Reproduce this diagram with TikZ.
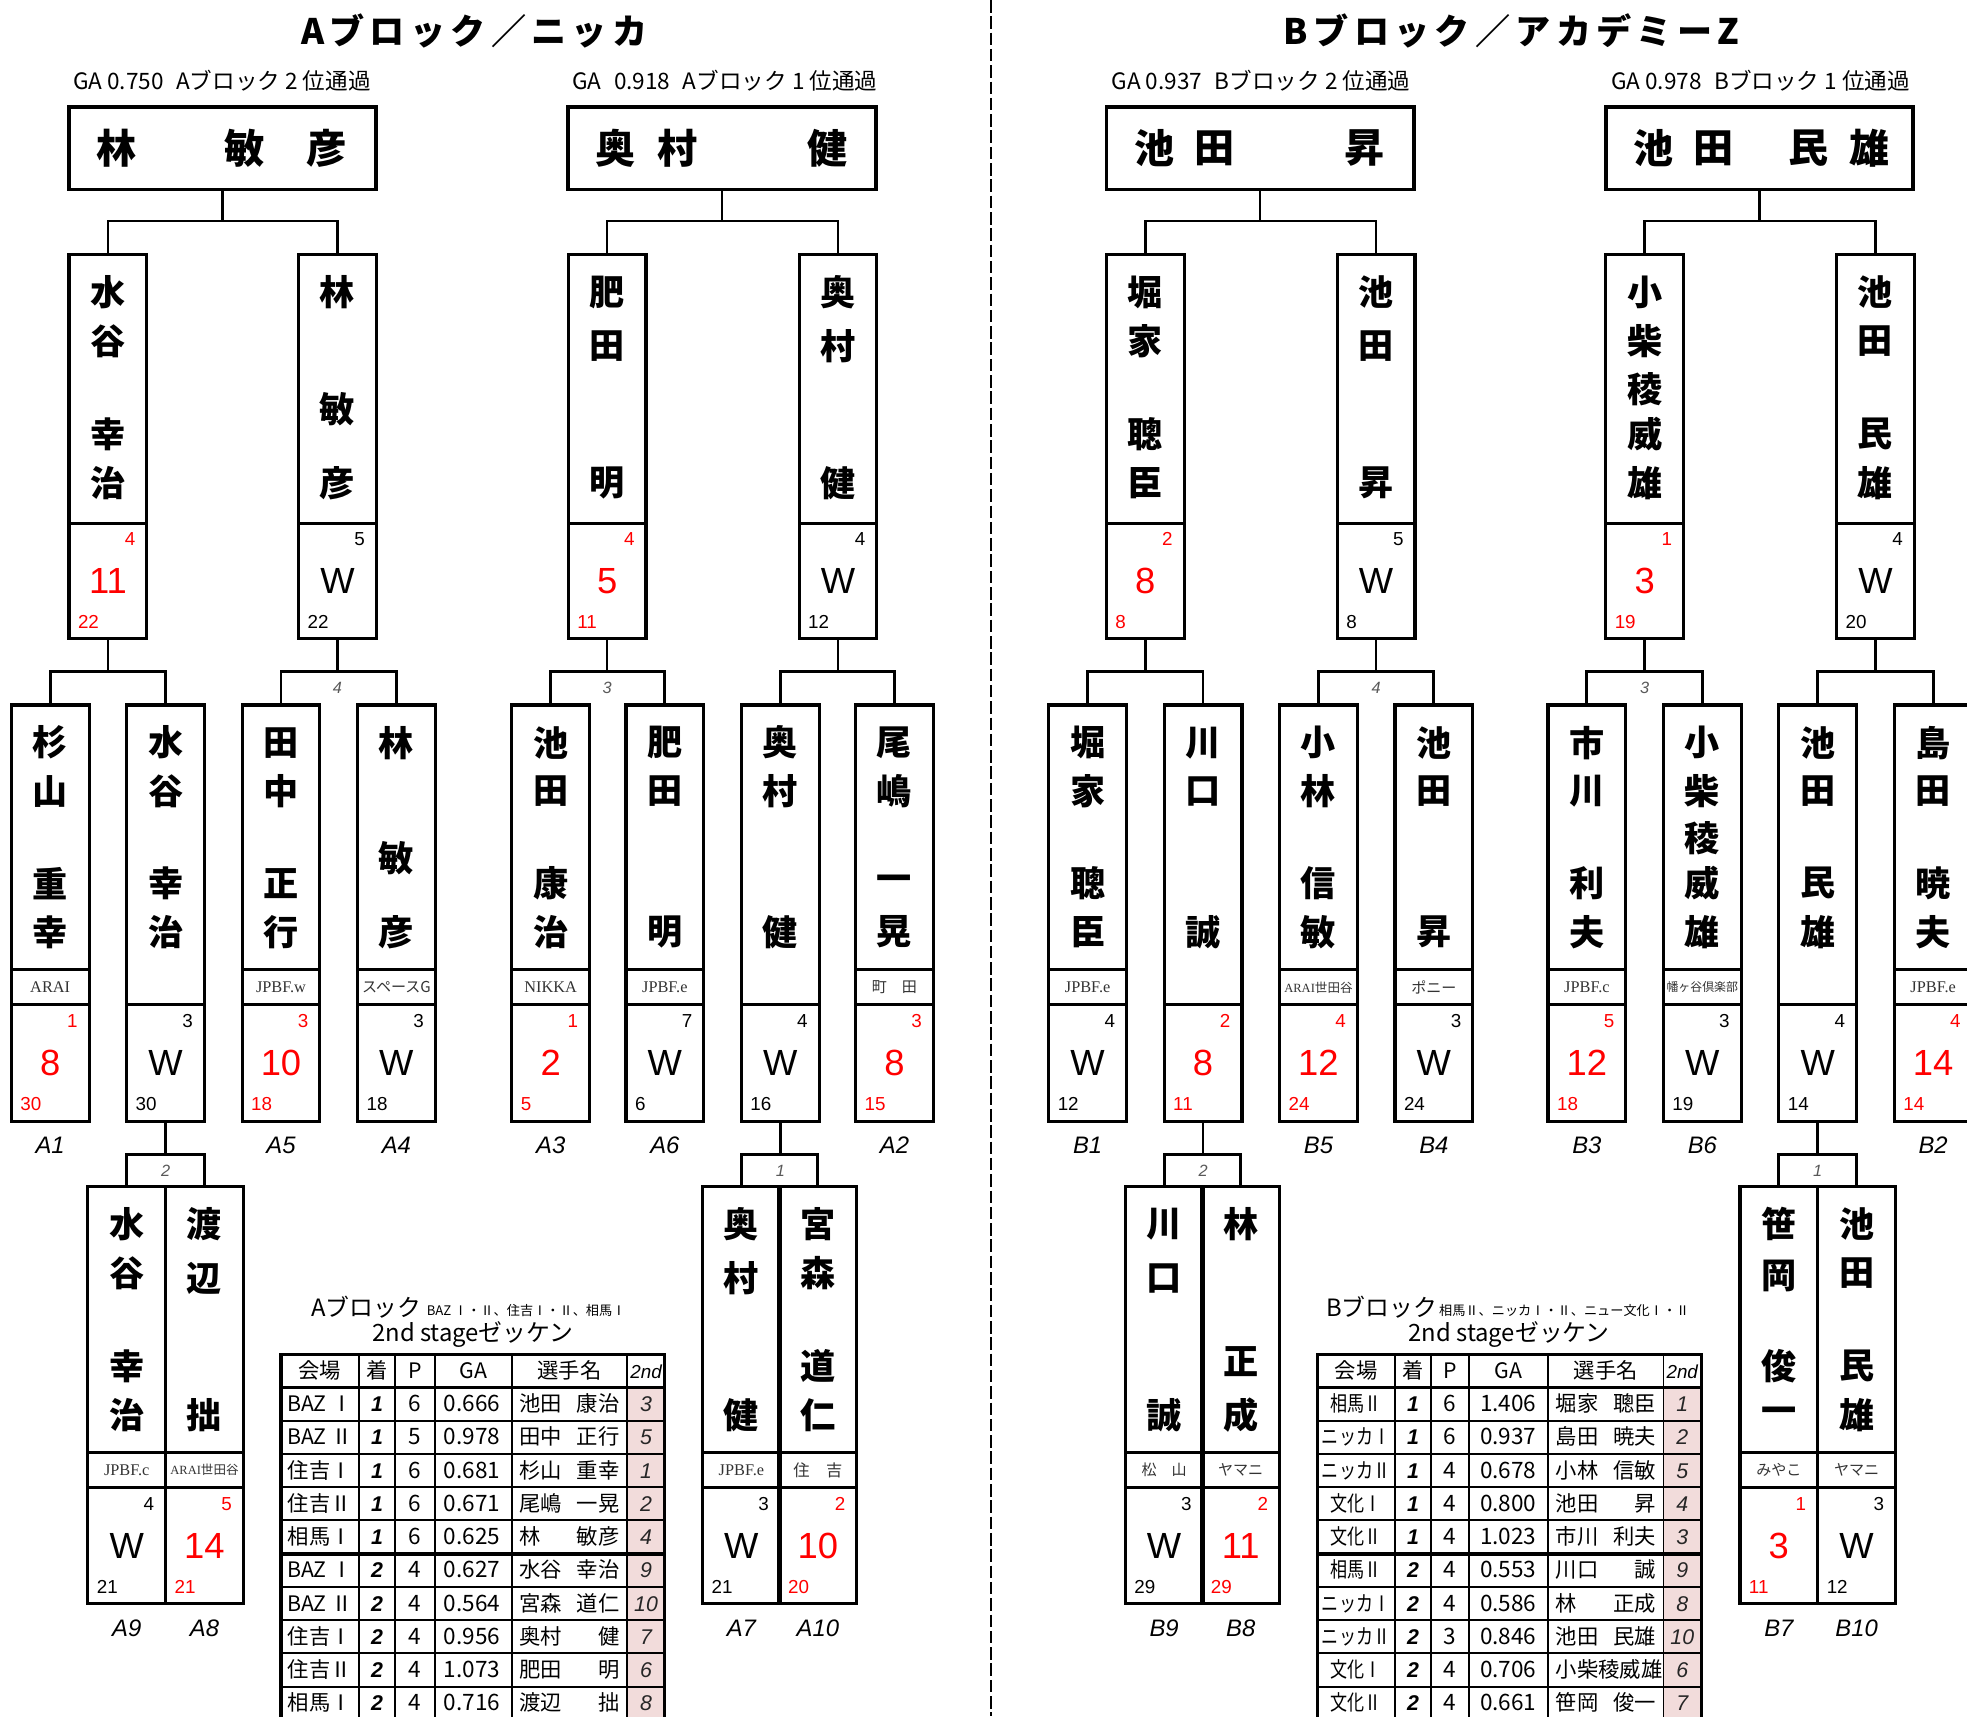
\documentclass[tikz,border=0pt]{standalone}
\usepackage{fontspec}
\usepackage{graphicx}
\setmainfont{Liberation Sans}
\newfontfamily\jp{Noto Sans CJK JP}
\newfontfamily\clubf{Liberation Serif}
\newfontfamily\titlef{Noto Sans CJK JP}[LetterSpace=15]
\definecolor{pinkc}{RGB}{242,220,219}
\definecolor{myred}{RGB}{255,0,0}
\newcommand\venuefmt[1]{#1}
\tikzset{
 bx/.style={draw, line width=2.5pt, minimum width=62pt, inner sep=0pt, outer sep=0pt},
 bxl/.style={line width=2.5pt},
 fin/.style={draw, line width=3pt, minimum width=245pt, minimum height=66pt, inner sep=0pt, outer sep=0pt},
 con/.style={line width=2pt},
 brk/.style={line width=2.3pt},
 divl/.style={line width=1.5pt, dash pattern=on 10pt off 3pt},
 ch/.style={font=\jp\bfseries\fontsize{28}{30}\selectfont, inner sep=0pt},
 fch/.style={font=\jp\bfseries\fontsize{32}{34}\selectfont, inner sep=0pt},
 smn/.style={font=\fontsize{15}{16}\selectfont, inner sep=0pt},
 bign/.style={font=\fontsize{29}{30}\selectfont, inner sep=0pt},
 club/.style={font=\clubf\fontsize{13}{14}\selectfont, inner sep=0pt, text=black!80},
 seed/.style={font=\itshape\fontsize{19}{20}\selectfont, inner sep=0pt},
 blab/.style={font=\itshape\fontsize{13}{14}\selectfont, inner sep=0pt, text=black!65},
 ttl/.style={font=\titlef\bfseries\fontsize{28}{30}\selectfont, inner sep=0pt},
 subt/.style={font=\jp\fontsize{18}{20}\selectfont, inner sep=0pt, anchor=west},
 tt1/.style={font=\jp\fontsize{19}{21}\selectfont, inner sep=0pt},
 tt2/.style={font=\jp\fontsize{10.5}{12}\selectfont, inner sep=0pt},
 tin/.style={line width=1.5pt},
 tmid/.style={line width=2pt},
 tthick/.style={line width=3pt},
 tout/.style={line width=2.5pt},
 tbase/.style={inner sep=0pt, text height=13pt, text depth=1pt},
 thd/.style={tbase, font=\jp\fontsize{17}{18}\selectfont},
 thi/.style={tbase, font=\itshape\fontsize{15}{16}\selectfont},
 tj/.style={tbase, font=\jp\fontsize{17}{18}\selectfont},
 tnum/.style={tbase, font=\jp\fontsize{18}{19}\selectfont},
 trank/.style={tbase, font=\bfseries\itshape\fontsize{17}{18}\selectfont},
 tz/.style={tbase, font=\itshape\fontsize{17}{18}\selectfont, text=black!85},
}
% player box: id, cx, top, bottom, club-line y (0 = none), score-line y, chars, club, scores
\newcommand\pl[9]{%
 \node[bx, minimum height={(#4-#3)*1pt}, anchor=north] (#1) at (#2,#3) {};
 \draw[bxl] (#1.west |- 0,#6) -- (#1.east |- 0,#6);
 \ifnum#5>0
  \draw[bxl] (#1.west |- 0,#5) -- (#1.east |- 0,#5);
  \node[club] (#1-club) at (#2,{(#5+#6)/2}) {#8};
 \fi
 \foreach \pc/\po in {#7} {\node[ch] (#1-ch\po) at (#2,#3+\po) {\pc};}
 \foreach \qa/\qb/\qc/\qd in {#9} {
  \node[smn, text=\qd, anchor=east] (#1-n1) at (#2+22,#6+13) {\qa};
  \node[bign, text=\qd] (#1-big) at (#2,#6+46) {\qb};
  \node[smn, text=\qd, anchor=west] (#1-n2) at (#2-24,#6+79) {\qc};
 }
}
% table: id, 7 column x, data
\newcommand\ttable[9]{%
 \fill[pinkc] (#7,1106) rectangle (#8,1371);
 \foreach \yy in {1132.5,1159,1185.5,1212,1265,1291.5,1318,1344.5} {\draw[tin] (#2,\yy) -- (#8,\yy);}
 \draw[tthick] (#2,1238.5) -- (#8,1238.5);
 \draw[tmid] (#2,1106) -- (#8,1106);
 \foreach \xx in {#3,#4,#5,#6,#7} {\draw[tin] (\xx,1080) -- (\xx,1371);}
 \draw[tout] (#2,1371) -- (#2,1080) -- (#8,1080) -- (#8,1371);
 \node[thd] (#1-h1) at ({(#2+#3)/2},1093) {会場};
 \node[thd] (#1-h2) at ({(#3+#4)/2},1093) {着};
 \node[thd] (#1-h3) at ({(#4+#5)/2},1093) {P};
 \node[thd] (#1-h4) at ({(#5+#6)/2},1093) {GA};
 \node[thd] (#1-h5) at ({(#6+#7)/2},1093) {選手名};
 \node[thi] (#1-h6) at ({(#7+#8)/2},1093) {2nd};
 \foreach \k/\v/\r/\p/\g/\f/\n/\z in {#9} {
  \pgfmathsetmacro\yc{1106+26.5*(\k-0.5)}
  \node[tj] (#1-v\k) at ({(#2+#3)/2},\yc) {\venuefmt{\v}};
  \node[trank] (#1-r\k) at ({(#3+#4)/2},\yc) {\r};
  \node[tnum] (#1-p\k) at ({(#4+#5)/2},\yc) {\p};
  \node[tnum, anchor=east] (#1-g\k) at (#6-9,\yc) {\g};
  \node[tj, anchor=west] (#1-f\k) at (#6+6,\yc) {\f};
  \node[tj, anchor=east] (#1-m\k) at (#7-6,\yc) {\n};
  \node[tz] (#1-z\k) at ({(#7+#8)/2},\yc) {\z};
 }
}
\begin{document}
\begin{tikzpicture}[x=1pt,y=-1pt]
\useasboundingbox (0,0) rectangle (1568,1368);
\fill[white] (0,0) rectangle (1568,1368);
\clip (0,0) rectangle (1568,1368);

% centre divider
\coordinate (dT) at (790,0);
\coordinate (dB) at (790,1368);
\draw[divl] (dT) -- (dB);

% titles
\node[ttl] (tiA) at (378,25) {Aブロック／ニッカ};
\node[ttl] (tiB) at (1205,25) {Bブロック／アカデミーZ};
\node[subt] (suA1) at (58,64) {GA 0.750\hspace{10pt}Aブロック 2 位通過};
\node[subt] (suA2) at (456,64) {GA\hspace{10pt}0.918\hspace{10pt}Aブロック 1 位通過};
\node[subt] (suB1) at (886,64) {GA 0.937\hspace{10pt}Bブロック 2 位通過};
\node[subt] (suB2) at (1284,64) {GA 0.978\hspace{10pt}Bブロック 1 位通過};

% final boxes
\node[fin] (fA1) at (177.5,118) {};
\node[fin] (fA2) at (575.5,118) {};
\node[fin] (fB1) at (1004.5,118) {};
\node[fin] (fB2) at (1402.5,118) {};
\node[fch] (fA1a) at (93,118) {林};
\node[fch] (fA1b) at (195,118) {敏};
\node[fch] (fA1c) at (260,118) {彦};
\node[fch] (fA2a) at (491,118) {奥};
\node[fch] (fA2b) at (540,118) {村};
\node[fch] (fA2c) at (660,118) {健};
\node[fch] (fB1a) at (920,118) {池};
\node[fch] (fB1b) at (968,118) {田};
\node[fch] (fB1c) at (1088,118) {昇};
\node[fch] (fB2a) at (1318,118) {池};
\node[fch] (fB2b) at (1366,118) {田};
\node[fch] (fB2c) at (1442,118) {民};
\node[fch] (fB2d) at (1490,118) {雄};

% row 2
\pl{sA1}{86}{203}{509}{0}{417}{水/30,谷/69,幸/143,治/182}{}{4/11/22/myred}
\pl{sA2}{269}{203}{509}{0}{417}{林/30,敏/123,彦/182}{}{5/W/22/black}
\pl{sA3}{484}{203}{509}{0}{417}{肥/30,田/73,明/182}{}{4/5/11/myred}
\pl{sA4}{668}{203}{509}{0}{417}{奥/30,村/73,健/182}{}{4/W/12/black}
\pl{sB1}{913}{203}{509}{0}{417}{堀/30,家/69,聰/143,臣/182}{}{2/8/8/myred}
\pl{sB2}{1097}{203}{509}{0}{417}{池/30,田/73,昇/182}{}{5/W/8/black}
\pl{sB3}{1311}{203}{509}{0}{417}{小/30,柴/69,稜/107,威/143,雄/182}{}{1/3/19/myred}
\pl{sB4}{1495}{203}{509}{0}{417}{池/30,田/69,民/143,雄/182}{}{4/W/20/black}

% row 3
\pl{tA1}{40}{562}{894}{773}{801}{杉/30,山/69,重/142,幸/181}{ARAI}{1/8/30/myred}
\pl{tA2}{132}{562}{894}{0}{801}{水/30,谷/69,幸/142,治/181}{}{3/W/30/black}
\pl{tA3}{224}{562}{894}{773}{801}{田/30,中/69,正/142,行/181}{JPBF.w}{3/10/18/myred}
\pl{tA4}{316}{562}{894}{773}{801}{林/30,敏/122,彦/181}{\jp\fontsize{12}{13}\selectfont スペースG}{3/W/18/black}
\pl{tA5}{439}{562}{894}{773}{801}{池/30,田/69,康/142,治/181}{NIKKA}{1/2/5/myred}
\pl{tA6}{530}{562}{894}{773}{801}{肥/30,田/69,明/181}{JPBF.e}{7/W/6/black}
\pl{tA7}{622}{562}{894}{0}{801}{奥/30,村/69,健/181}{}{4/W/16/black}
\pl{tA8}{713}{562}{894}{773}{801}{尾/30,嶋/69,一/142,晃/181}{\jp\fontsize{12}{13}\selectfont 町　田}{3/8/15/myred}
\pl{tB1}{867}{562}{894}{773}{801}{堀/30,家/69,聰/142,臣/181}{JPBF.e}{4/W/12/black}
\pl{tB2}{959}{562}{894}{0}{801}{川/30,口/69,誠/181}{}{2/8/11/myred}
\pl{tB3}{1051}{562}{894}{773}{801}{小/30,林/69,信/142,敏/181}{\fontsize{10}{11}\selectfont ARAI\jp 世田谷}{4/12/24/myred}
\pl{tB4}{1143}{562}{894}{773}{801}{池/30,田/69,昇/181}{\jp\fontsize{12}{13}\selectfont ポニー}{3/W/24/black}
\pl{tB5}{1265}{562}{894}{773}{801}{市/30,川/69,利/142,夫/181}{JPBF.c}{5/12/18/myred}
\pl{tB6}{1357}{562}{894}{773}{801}{小/30,柴/69,稜/106,威/142,雄/181}{\jp\fontsize{9.5}{10}\selectfont 幡ヶ谷倶楽部}{3/W/19/black}
\pl{tB7}{1449}{562}{894}{0}{801}{池/30,田/69,民/142,雄/181}{}{4/W/14/black}
\pl{tB8}{1541}{562}{894}{773}{801}{島/30,田/69,暁/142,夫/181}{JPBF.e}{4/14/14/myred}

% row 4
\pl{uA1}{101}{946}{1278}{1158}{1186}{水/30,谷/69,幸/143,治/182}{JPBF.c}{4/W/21/black}
\pl{uA2}{163}{946}{1278}{1158}{1186}{渡/30,辺/73,拙/182}{\fontsize{10}{11}\selectfont ARAI\jp 世田谷}{5/14/21/myred}
\pl{uA3}{591}{946}{1278}{1158}{1186}{奥/30,村/73,健/182}{JPBF.e}{3/W/21/black}
\pl{uA4}{652}{946}{1278}{1158}{1186}{宮/30,森/69,道/143,仁/182}{\jp\fontsize{13}{14}\selectfont 住　吉}{2/10/20/myred}
\pl{uB1}{928}{946}{1278}{1158}{1186}{川/30,口/73,誠/182}{\jp\fontsize{12}{13}\selectfont 松　山}{3/W/29/black}
\pl{uB2}{989}{946}{1278}{1158}{1186}{林/30,正/139,成/182}{\jp\fontsize{12}{13}\selectfont ヤマニ}{2/11/29/myred}
\pl{uB3}{1418}{946}{1278}{1158}{1186}{笹/30,岡/71,俊/143,一/182}{\jp\fontsize{12}{13}\selectfont みやこ}{1/3/11/myred}
\pl{uB4}{1480}{946}{1278}{1158}{1186}{池/30,田/69,民/143,雄/182}{\jp\fontsize{12}{13}\selectfont ヤマニ}{3/W/12/black}

% connectors: finals -> row 2
\draw[con] (fA1.south) -- ++(0,25) coordinate (kF1);
\draw[con] (sA1.north) |- (kF1) -| (sA2.north);
\draw[con] (fA2.south) -- ++(0,25) coordinate (kF2);
\draw[con] (sA3.north) |- (kF2) -| (sA4.north);
\draw[con] (fB1.south) -- ++(0,25) coordinate (kF3);
\draw[con] (sB1.north) |- (kF3) -| (sB2.north);
\draw[con] (fB2.south) -- ++(0,25) coordinate (kF4);
\draw[con] (sB3.north) |- (kF4) -| (sB4.north);

% row 2 -> row 3
\draw[con] (sA1.south) -- ++(0,26) coordinate (kA1);
\draw[brk] (tA1.north) |- (kA1) -| (tA2.north);
\draw[con] (sA2.south) -- ++(0,26) coordinate (kA2);
\draw[brk] (tA3.north) |- (kA2) -| (tA4.north);
\path (kA2) ++(0,13) node[blab] (lA2) {4};
\draw[con] (sA3.south) -- ++(0,26) coordinate (kA3);
\draw[brk] (tA5.north) |- (kA3) -| (tA6.north);
\path (kA3) ++(0,13) node[blab] (lA3) {3};
\draw[con] (sA4.south) -- ++(0,26) coordinate (kA4);
\draw[brk] (tA7.north) |- (kA4) -| (tA8.north);
\draw[con] (sB1.south) -- ++(0,26) coordinate (kB1);
\draw[brk] (tB1.north) |- (kB1) -| (tB2.north);
\draw[con] (sB2.south) -- ++(0,26) coordinate (kB2);
\draw[brk] (tB3.north) |- (kB2) -| (tB4.north);
\path (kB2) ++(0,13) node[blab] (lB2) {4};
\draw[con] (sB3.south) -- ++(0,26) coordinate (kB3);
\draw[brk] (tB5.north) |- (kB3) -| (tB6.north);
\path (kB3) ++(0,13) node[blab] (lB3) {3};
\draw[con] (sB4.south) -- ++(0,26) coordinate (kB4);
\draw[brk] (tB7.north) |- (kB4) -| (tB8.north);

% row 3 -> row 4
\draw[con] (tA2.south) -- ++(0,26) coordinate (mA1);
\draw[brk] (uA1.north) |- (mA1) -| (uA2.north);
\path (mA1) ++(0,13) node[blab] (nA1) {2};
\draw[con] (tA7.south) -- ++(0,26) coordinate (mA2);
\draw[brk] (uA3.north) |- (mA2) -| (uA4.north);
\path (mA2) ++(0,13) node[blab] (nA2) {1};
\draw[con] (tB2.south) -- ++(0,26) coordinate (mB1);
\draw[brk] (uB1.north) |- (mB1) -| (uB2.north);
\path (mB1) ++(0,13) node[blab] (nB1) {2};
\draw[con] (tB7.south) -- ++(0,26) coordinate (mB2);
\draw[brk] (uB3.north) |- (mB2) -| (uB4.north);
\path (mB2) ++(0,13) node[blab] (nB2) {1};

% seed labels
\foreach \nm/\xx in {A1/40,A5/224,A4/316,A3/439,A6/530,A2/713,B1/867,B5/1051,B4/1143,B3/1265,B6/1357,B2/1541}
 {\node[seed] (seed-\nm) at (\xx,913) {\nm};}
\foreach \nm/\xx in {A9/101,A8/163,A7/591,A10/652,B9/928,B8/989,B7/1418,B10/1480}
 {\node[seed] (seed-\nm) at (\xx,1298) {\nm};}

% tables
\node[tt1, anchor=west] (tAt) at (248,1042) {Aブロック};
\node[tt2, anchor=west] (tAn) at (340,1045) {BAZ Ⅰ・Ⅱ、住吉Ⅰ・Ⅱ、相馬Ⅰ};
\node[tt1] (tAs) at (377,1064) {2nd stageゼッケン};
\node[tt1, anchor=west] (tBt) at (1057,1042) {Bブロック};
\node[tt2, anchor=west] (tBn) at (1147,1045) {相馬Ⅱ、ニッカⅠ・Ⅱ、ニュー文化Ⅰ・Ⅱ};
\node[tt1] (tBs) at (1203,1064) {2nd stageゼッケン};

\ttable{TA}{224}{286}{315}{347}{408}{500}{530}{1/BAZ Ⅰ/1/6/0.666/池田/康治/3,2/BAZ Ⅱ/1/5/0.978/田中/正行/5,3/住吉Ⅰ/1/6/0.681/杉山/重幸/1,4/住吉Ⅱ/1/6/0.671/尾嶋/一晃/2,5/相馬Ⅰ/1/6/0.625/林/敏彦/4,6/BAZ Ⅰ/2/4/0.627/水谷/幸治/9,7/BAZ Ⅱ/2/4/0.564/宮森/道仁/10,8/住吉Ⅰ/2/4/0.956/奥村/健/7,9/住吉Ⅱ/2/4/1.073/肥田/明/6,10/相馬Ⅰ/2/4/0.716/渡辺/拙/8}
\renewcommand\venuefmt[1]{\scalebox{0.8}[1]{#1}}
\ttable{TB}{1050}{1112}{1141}{1171}{1234}{1326}{1356}{1/相馬Ⅱ/1/6/1.406/堀家/聰臣/1,2/ニッカⅠ/1/6/0.937/島田/暁夫/2,3/ニッカⅡ/1/4/0.678/小林/信敏/5,4/文化Ⅰ/1/4/0.800/池田/昇/4,5/文化Ⅱ/1/4/1.023/市川/利夫/3,6/相馬Ⅱ/2/4/0.553/川口/誠/9,7/ニッカⅠ/2/4/0.586/林/正成/8,8/ニッカⅡ/2/3/0.846/池田/民雄/10,9/文化Ⅰ/2/4/0.706/小柴稜威雄//6,10/文化Ⅱ/2/4/0.661/笹岡/俊一/7}
\end{tikzpicture}
\end{document}
